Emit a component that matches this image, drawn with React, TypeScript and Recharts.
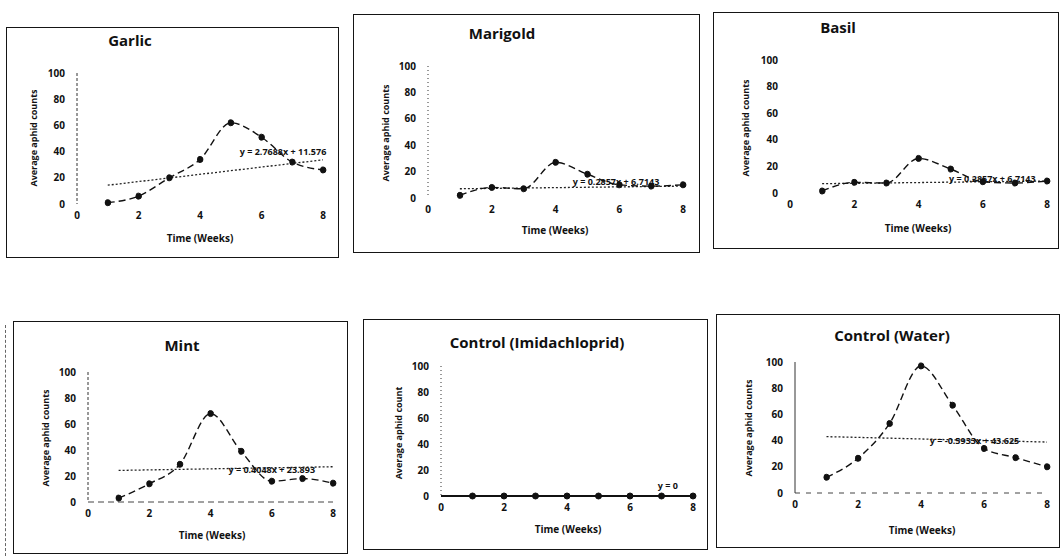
import React from "react";
import { LineChart, Line, XAxis, YAxis, ReferenceLine, ReferenceDot } from "recharts";

const weeks = [1, 2, 3, 4, 5, 6, 7, 8];

const garlicCounts = [1, 6, 20, 34, 62, 51, 32, 26];
const marigoldCounts = [2, 8, 7, 27, 18, 10, 9, 10];
const basilCounts = [1.5, 8, 7.5, 26, 18, 8.5, 7.5, 9];
const mintCounts = [3, 14, 29, 68, 39, 16, 18, 14.5];
const imidCounts = [0, 0, 0, 0, 0, 0, 0, 0];
const waterCounts = [12, 26.5, 53, 97, 67, 34, 27, 20];

const titles = ["Garlic", "Marigold", "Basil", "Mint", "Control (Imidachloprid)", "Control (Water)"];
const yLabels = [
    "Average aphid counts",
    "Average aphid counts",
    "Average aphid counts",
    "Average aphid counts",
    "Average aphid count",
    "Average aphid counts",
];
const xLabel = "Time (Weeks)";

// trendline equations as printed on the charts
const trendSlopes = [2.7688, 0.2857, 0.2857, 0.4048, 0, -0.5933];
const trendIntercepts = [11.576, 6.7143, 6.7143, 23.893, 0, 43.625];
const trendLabels = [
    "y = 2.7688x + 11.576",
    "y = 0.2857x + 6.7143",
    "y = 0.2857x + 6.7143",
    "y = 0.4048x + 23.893",
    "y = 0",
    "y = -0.5933x + 43.625",
];
// where the equation text sits, in data units
const labelWeeks = [6.7, 5.9, 6.3, 6.0, 7.2, 5.7];
const labelCounts = [40, 12, 11, 25, 8, 40];

const xTicks = [0, 2, 4, 6, 8];
const yTicks = [0, 20, 40, 60, 80, 100];

const allCounts = [garlicCounts, marigoldCounts, basilCounts, mintCounts, imidCounts, waterCounts];

// page layout of each panel (box, plot area, text anchors)
const layouts = [
    { box: [6, 27, 333, 231], x0: 77, x8: 323, y0: 204, y100: 73, title: [130, 40], yl: [33, 138], xl: [200, 238], yAxis: "3 2", xAxis: null, solid: false },
    { box: [353, 14, 347, 239], x0: 428, x8: 683, y0: 198, y100: 66, title: [502, 33], yl: [385, 133], xl: [555, 230], yAxis: "1 3", xAxis: null, solid: false },
    { box: [713, 12, 346, 237], x0: 790, x8: 1047, y0: 193, y100: 60, title: [838, 27], yl: [745, 128], xl: [918, 228], yAxis: null, xAxis: null, solid: false },
    { box: [13, 321, 335, 233], x0: 88, x8: 333, y0: 502, y100: 372, title: [182, 345], yl: [45, 438], xl: [212, 535], yAxis: "3 2", xAxis: "6 4", solid: false },
    { box: [363, 319, 345, 231], x0: 441, x8: 693, y0: 496, y100: 366, title: [537, 342], yl: [398, 433], xl: [568, 529], yAxis: "1 3", xAxis: "", solid: true },
    { box: [716, 314, 344, 234], x0: 795, x8: 1047, y0: 493, y100: 362, title: [892, 335], yl: [748, 428], xl: [922, 530], yAxis: "", xAxis: "5 6", solid: false },
];

const FONT = "'Open Sans', 'DejaVu Sans', sans-serif";
const INK = "#111";
const Y_AXIS_W = 40;
const X_AXIS_H = 30;

function Panel({ idx }: { idx: number }) {
    const L = layouts[idx];
    const [bx, by, bw, bh] = L.box;
    const data = weeks.map((w, i) => ({ week: w, count: allCounts[idx][i] }));
    const m = trendSlopes[idx];
    const b = trendIntercepts[idx];
    const margin = {
        top: L.y100 - by,
        right: bx + bw - L.x8,
        left: L.x0 - bx - Y_AXIS_W,
        bottom: by + bh - L.y0 - X_AXIS_H,
    };
    const tick = { fontSize: 10, fontWeight: 700, fill: INK, fontFamily: FONT };

    return (
        <div style={{ position: "absolute", left: bx, top: by, width: bw, height: bh }}>
            <div style={{ position: "absolute", inset: 0, border: "1.6px solid #151515", boxSizing: "border-box" }} />
            <div style={{ position: "absolute", left: 0, top: 0 }}>
                <LineChart width={bw} height={bh} data={data} margin={margin}>
                    <XAxis
                        dataKey="week"
                        type="number"
                        domain={[0, 8]}
                        ticks={xTicks}
                        height={X_AXIS_H}
                        tickLine={false}
                        tickSize={4}
                        tickMargin={4}
                        tick={tick}
                        axisLine={L.xAxis === null ? false : { stroke: L.solid ? INK : "#444", strokeWidth: L.solid ? 2 : 1, strokeDasharray: L.xAxis || undefined }}
                    />
                    <YAxis
                        type="number"
                        domain={[0, 100]}
                        ticks={yTicks}
                        width={Y_AXIS_W}
                        tickLine={false}
                        tickSize={5}
                        tickMargin={7}
                        tick={tick}
                        axisLine={L.yAxis === null ? false : { stroke: "#333", strokeWidth: 1, strokeDasharray: L.yAxis || undefined }}
                    />
                    {!L.solid && (
                        <ReferenceLine
                            segment={[
                                { x: 1, y: m * 1 + b },
                                { x: 8, y: m * 8 + b },
                            ]}
                            stroke="#222"
                            strokeWidth={1.3}
                            strokeDasharray="2 2"
                            ifOverflow="visible"
                        />
                    )}
                    <Line
                        dataKey="count"
                        type="monotone"
                        stroke={INK}
                        strokeWidth={L.solid ? 2.2 : 1.4}
                        strokeDasharray={L.solid ? undefined : "7 4"}
                        dot={{ r: 3, fill: INK, stroke: INK, strokeWidth: 1 }}
                        isAnimationActive={false}
                    />
                    <ReferenceDot
                        x={labelWeeks[idx]}
                        y={labelCounts[idx]}
                        r={0}
                        stroke="none"
                        ifOverflow="visible"
                        label={{ value: trendLabels[idx], position: "center", fontSize: 9, fontWeight: 700, fill: INK, fontFamily: FONT }}
                    />
                </LineChart>
            </div>
        </div>
    );
}

function Caption({ x, y, text, size, rotate }: { x: number; y: number; text: string; size: number; rotate?: boolean }) {
    return (
        <div
            style={{
                position: "absolute",
                left: x,
                top: y,
                transform: `translate(-50%, -50%)${rotate ? " rotate(-90deg)" : ""}`,
                whiteSpace: "nowrap",
                fontFamily: FONT,
                fontWeight: 700,
                fontSize: size,
                color: INK,
                lineHeight: 1,
            }}
        >
            {text}
        </div>
    );
}

export default function App() {
    return (
        <div style={{ position: "absolute", left: 0, top: 0, width: 1062, height: 556, background: "#fff", overflow: "hidden" }}>
            {layouts.map((L, i) => (
                <Panel key={i} idx={i} />
            ))}
            {layouts.map((L, i) => (
                <React.Fragment key={`t-${i}`}>
                    <Caption x={L.title[0]} y={L.title[1]} text={titles[i]} size={15} />
                    <Caption x={L.yl[0]} y={L.yl[1]} text={yLabels[i]} size={9} rotate />
                    <Caption x={L.xl[0]} y={L.xl[1]} text={xLabel} size={10} />
                </React.Fragment>
            ))}
            {/* scan artefact: dashed rule at the far left of the lower row */}
            <div style={{ position: "absolute", left: 5, top: 325, height: 231, borderLeft: "1px dashed #666" }} />
        </div>
    );
}
